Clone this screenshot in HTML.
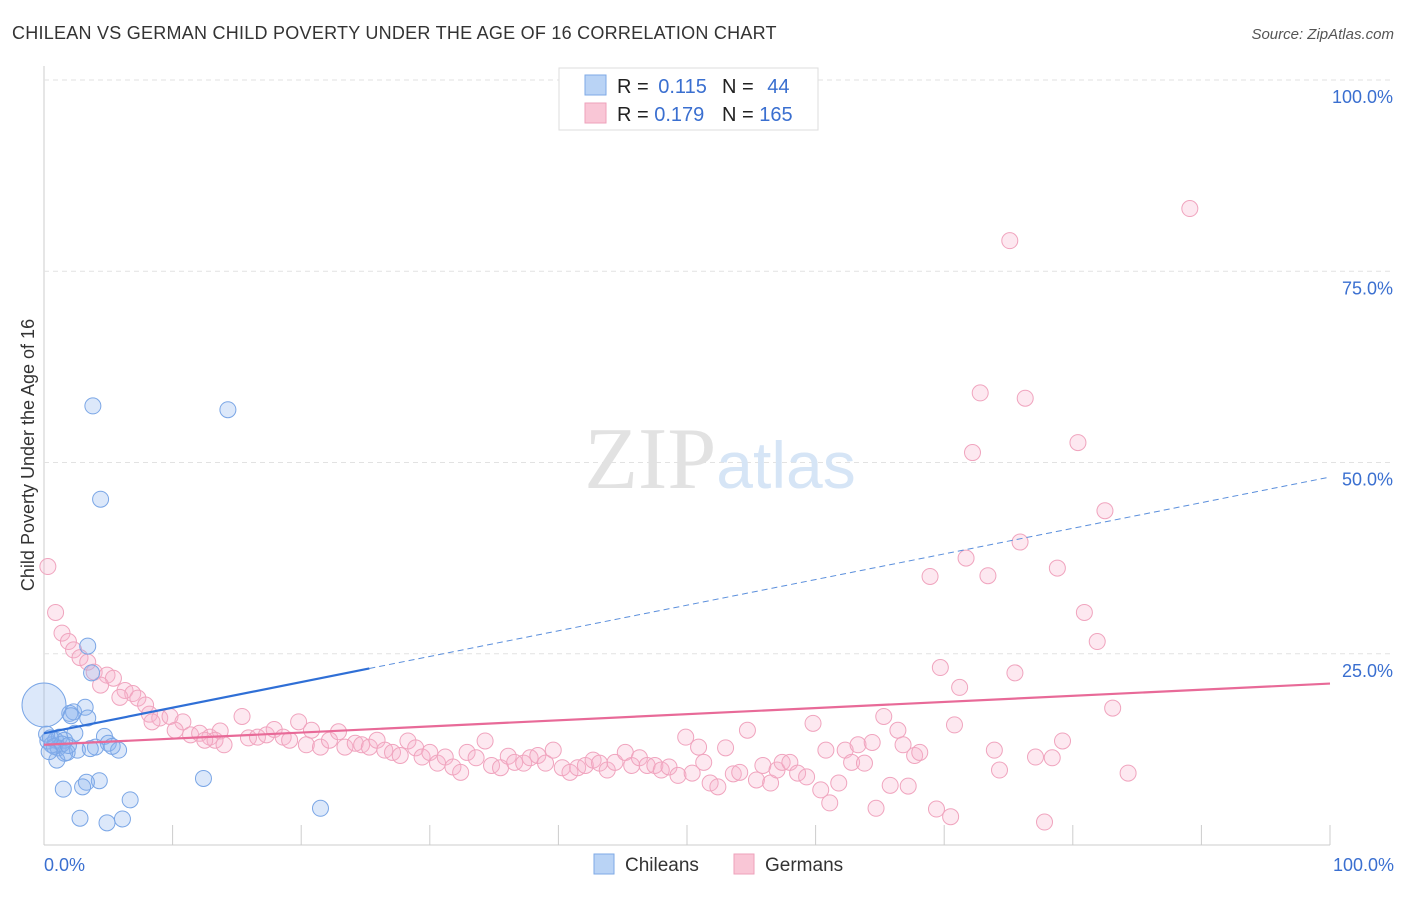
<!DOCTYPE html>
<html><head><meta charset="utf-8"><style>
body{margin:0;background:#fff;font-family:"Liberation Sans",sans-serif;}
svg text{font-family:"Liberation Sans",sans-serif;}
</style></head><body>
<svg id="chart" width="1406" height="892">
<text x="12" y="39" font-size="18" fill="#333" letter-spacing="0.25">CHILEAN VS GERMAN CHILD POVERTY UNDER THE AGE OF 16 CORRELATION CHART</text>
<text x="1394" y="39" font-size="15" fill="#555" text-anchor="end" font-style="italic">Source: ZipAtlas.com</text>
<g id="grid"></g>
<text x="720" y="488" font-size="88" text-anchor="middle"><tspan fill="#e2e2e2" font-family="Liberation Serif">ZIP</tspan><tspan fill="#d6e5f6" font-size="66" font-family="Liberation Sans">atlas</tspan></text>
<text transform="translate(34,455) rotate(-90)" font-size="18" fill="#333" text-anchor="middle">Child Poverty Under the Age of 16</text>
<g id="pts"></g>
<g id="lines"></g>
<g>
<rect x="559" y="68" width="259" height="62" fill="#fff" stroke="#ddd"/>
<rect x="585" y="75" width="21" height="20" fill="#b9d3f5" stroke="#7ea9e6"/>
<rect x="585" y="103" width="21" height="20" fill="#f9c6d6" stroke="#eea1bb"/>
<text x="617" y="93" font-size="20" fill="#222">R = <tspan fill="#3a6fd0">&#8201;0.115</tspan></text>
<text x="722" y="93" font-size="20" fill="#222">N = <tspan fill="#3a6fd0">&#8201;&#8201;44</tspan></text>
<text x="617" y="121" font-size="20" fill="#222">R = <tspan fill="#3a6fd0">0.179</tspan></text>
<text x="722" y="121" font-size="20" fill="#222">N = <tspan fill="#3a6fd0">165</tspan></text>
</g>
<g>
<rect x="594" y="854" width="20" height="20" fill="#b9d3f5" stroke="#7ea9e6"/>
<text x="625" y="871" font-size="19" fill="#333">Chileans</text>
<rect x="734" y="854" width="20" height="20" fill="#f9c6d6" stroke="#eea1bb"/>
<text x="765" y="871" font-size="19" fill="#333">Germans</text>
</g>
</svg>
<script>
const yTicks=[25,50,75,100];
const yTickLabels=["25.0%","50.0%","75.0%","100.0%"];
const xTickLabels=["0.0%","100.0%"];
const blueX=[3.8,14.3,4.4,3.4,3.7,2.0,2.3,3.2,3.4,0.3,0.9,1.2,1.6,0.6,1.1,2.4,4.7,5.0,5.8,4.0,2.6,1.6,1.0,1.8,12.4,4.3,3.3,3.0,1.5,2.8,4.9,6.1,6.7,21.5,0.2,0.8,1.4,3.6,2.1,0.5,1.9,5.3,0.4];
const blueY=[57.4,56.9,45.2,26.0,22.5,17.2,17.4,18.0,16.6,13.6,13.7,14.1,13.7,13.1,12.7,14.6,14.2,13.3,12.4,12.8,12.4,12.0,11.1,12.1,8.7,8.4,8.2,7.6,7.3,3.5,2.9,3.4,5.9,4.8,14.5,12.9,13.2,12.6,16.9,14.0,13.0,12.9,12.2];
const pinkX=[0.3,0.9,1.4,1.9,2.3,2.8,3.4,3.9,4.9,5.4,4.4,6.3,6.9,7.3,5.9,7.9,8.2,9.0,9.8,8.4,10.8,10.2,11.4,12.1,12.9,13.7,13.3,12.5,15.4,14.0,15.9,16.6,17.3,17.9,18.6,19.1,19.8,20.4,20.8,21.5,22.2,22.9,23.4,24.2,24.7,25.3,25.9,26.5,27.1,27.7,28.3,28.9,29.4,30.0,30.6,31.2,31.8,32.4,32.9,33.6,34.3,34.8,35.5,36.1,36.6,37.3,37.8,38.4,39.0,39.6,40.3,40.9,41.5,42.1,42.7,43.2,43.8,44.4,45.2,45.7,46.3,46.9,47.5,48.0,48.6,49.3,49.9,50.4,50.9,51.3,51.8,52.4,53.0,53.6,54.1,54.7,55.4,55.9,56.5,57.0,57.4,58.0,58.6,59.3,59.8,60.4,60.8,61.1,61.8,62.3,62.8,63.3,63.8,64.4,64.7,65.3,65.8,66.4,66.8,67.2,67.7,68.1,68.9,69.4,69.7,70.5,70.8,71.2,71.7,72.2,72.8,73.4,73.9,74.3,75.1,75.5,75.9,76.3,77.1,77.8,78.4,78.8,79.2,80.4,80.9,81.9,82.5,83.1,84.3,89.1];
const pinkY=[36.4,30.4,27.7,26.6,25.5,24.5,23.9,22.6,22.2,21.8,20.9,20.2,19.8,19.2,19.3,18.3,17.1,16.6,16.8,16.1,16.1,15.0,14.4,14.6,14.1,14.9,13.7,13.7,16.8,13.1,14.0,14.1,14.4,15.1,14.1,13.7,16.1,13.1,15.0,12.8,13.7,14.8,12.8,13.3,13.1,12.8,13.7,12.4,12.1,11.7,13.6,12.7,11.5,12.1,10.7,11.5,10.2,9.5,12.1,11.4,13.6,10.4,10.1,11.6,10.8,10.7,11.4,11.7,10.7,12.4,10.1,9.5,10.1,10.4,11.1,10.7,9.8,10.8,12.1,10.4,11.4,10.4,10.4,9.8,10.2,9.1,14.1,9.4,12.8,10.8,8.1,7.6,12.7,9.3,9.5,15.0,8.5,10.4,8.1,9.8,10.8,10.8,9.4,8.9,15.9,7.2,12.4,5.5,8.1,12.4,10.8,13.1,10.7,13.4,4.8,16.8,7.8,15.0,13.1,7.7,11.7,12.1,35.1,4.7,23.2,3.7,15.7,20.6,37.5,51.3,59.1,35.2,12.4,9.8,79.0,22.5,39.6,58.4,11.5,3.0,11.4,36.2,13.6,52.6,30.4,26.6,43.7,17.9,9.4,83.2];
const blueTrend=[14.6,0.335];
const pinkTrend=[13.1,0.08];
const NS="http://www.w3.org/2000/svg";
const X0=44,X1=1330,Y0=845,Y100=80;
function xs(v){return X0+v*(X1-X0)/100;}
function ys(v){return Y0-v*(Y0-Y100)/100;}
function mk(t,a,p){const e=document.createElementNS(NS,t);for(const k in a)e.setAttribute(k,a[k]);p.appendChild(e);return e;}
const grid=document.getElementById('grid');
mk('line',{x1:X0,y1:66,x2:X0,y2:Y0,stroke:'#ccc'},grid);
mk('line',{x1:X0,y1:Y0,x2:X1,y2:Y0,stroke:'#ccc'},grid);
for(let i=0;i<=10;i++){const l=mk('line',{x1:xs(i*10),y1:Y0,x2:xs(i*10),y2:Y0-20,stroke:'#ccc'},grid);

}
yTicks.forEach((v,i)=>{const l=mk('line',{x1:X0,y1:ys(v),x2:1394,y2:ys(v),stroke:'#e2e2e2','stroke-dasharray':'5,4'},grid);


const t=mk('text',{x:1393,y:ys(v)+23,'font-size':18,fill:'#3a6fd0','text-anchor':'end'},grid);t.textContent=yTickLabels[i];

});
[[0,44,'start'],[100,1394,'end']].forEach((d,i)=>{const t=mk('text',{x:d[1],y:871,'font-size':18,fill:'#3a6fd0','text-anchor':d[2]},grid);t.textContent=xTickLabels[i];

});
const pts=document.getElementById('pts');
pinkX.forEach((x,i)=>{const c=mk('circle',{cx:xs(x),cy:ys(pinkY[i]),r:8,fill:'rgba(248,180,204,0.3)',stroke:'#f0a4be','stroke-width':1},pts);

});
blueX.forEach((x,i)=>{const c=mk('circle',{cx:xs(x),cy:ys(blueY[i]),r:8,fill:'rgba(140,180,240,0.3)',stroke:'#7aa6e6','stroke-width':1},pts);

});
const big=mk('circle',{cx:xs(0),cy:ys(18.3),r:22,fill:'rgba(140,180,240,0.3)',stroke:'#7aa6e6','stroke-width':1},pts);


const lines=document.getElementById('lines');
const bEnd=25.3;
const b1=mk('line',{x1:xs(0),y1:ys(blueTrend[0]),x2:xs(bEnd),y2:ys(blueTrend[0]+blueTrend[1]*bEnd),stroke:'#2f6fd6','stroke-width':2.2},lines);


const b2=mk('line',{x1:xs(bEnd),y1:ys(blueTrend[0]+blueTrend[1]*bEnd),x2:xs(100),y2:ys(blueTrend[0]+blueTrend[1]*100),stroke:'#5b8fdc','stroke-width':1,'stroke-dasharray':'6,4'},lines);


const p1=mk('line',{x1:xs(0),y1:ys(pinkTrend[0]),x2:xs(100),y2:ys(pinkTrend[0]+pinkTrend[1]*100),stroke:'#e86a98','stroke-width':2.2},lines);


</script>
</body></html>
